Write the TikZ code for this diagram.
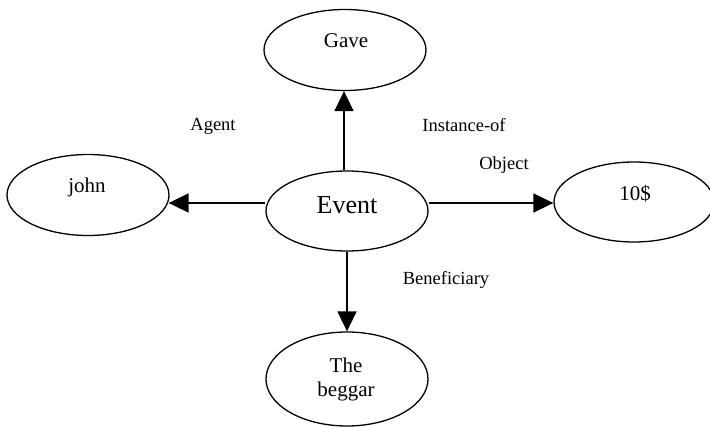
\documentclass[tikz,border=0pt]{standalone}
\usepackage{fontspec}
\setmainfont{Liberation Serif}
\usetikzlibrary{shapes.geometric,arrows.meta}
\tikzset{
  ell/.style={draw, ellipse, line width=1.3pt, inner sep=0pt, minimum width=162pt, minimum height=81pt},
  ntext/.style={anchor=base, inner sep=0pt, font=\fontsize{21}{22}\selectfont},
  ltext/.style={anchor=base, inner sep=0pt, font=\fontsize{18.5}{20}\selectfont},
  arr/.style={line width=1.8pt, -{Triangle[length=20pt,width=19pt]}}
}
\begin{document}
\begin{tikzpicture}[x=1pt,y=-1pt]
\useasboundingbox (0,0) rectangle (710,427);
\node[ell] (gave) at (345,50) {};
\node[ell] (john) at (88,195) {};
\node[ell, minimum height=80pt] (event) at (347,211) {};
\node[ell, minimum width=160pt, minimum height=80pt] (ten) at (634,202) {};
\node[ell, minimum height=94pt] (beggar) at (347,379) {};
\node[ntext] (tgave) at (346,48) {Gave};
\node[ntext] (tjohn) at (87,193) {john};
\node[ntext, font=\fontsize{26}{28}\selectfont] (tevent) at (347,214) {Event};
\node[ntext] (tten) at (635,201) {10\$};
\node[ntext] (tthe) at (346,373) {The};
\node[ntext] (tbeggar) at (346,397) {beggar};
\node[ltext] (lagent) at (213,131) {Agent};
\node[ltext] (linst) at (464,132) {Instance-of};
\node[ltext] (lobj) at (504,170) {Object};
\node[ltext] (lben) at (446,285) {Beneficiary};
\draw[arr] ([xshift=-3pt]event.north) -- ([xshift=-1pt]gave.south);
\draw[arr] ([yshift=8pt]event.west) -- ([yshift=8pt,xshift=-1pt]event.west -| john.east);
\draw[arr] ([yshift=8pt]event.east) -- ([yshift=8pt]event.east -| ten.west);
\draw[arr] (event.south) -- (beggar.north);
\end{tikzpicture}
\end{document}
